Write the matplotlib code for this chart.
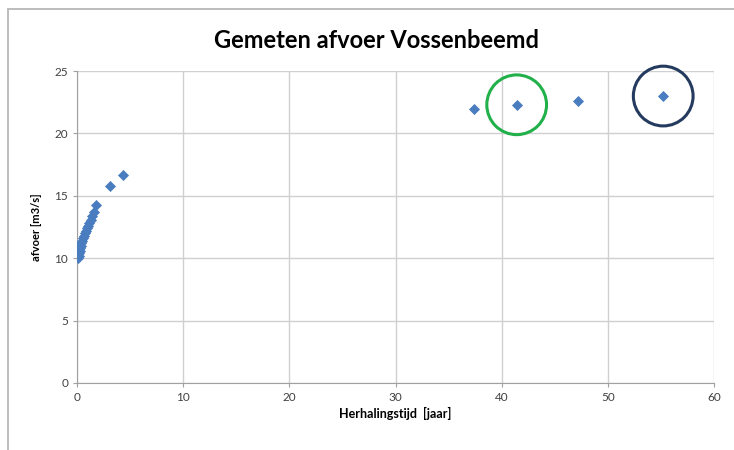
import matplotlib.pyplot as plt
from matplotlib.lines import Line2D

# herhalingstijd [jaar] and afvoer [m3/s]
tijd = [0.1, 0.15, 0.2, 0.25, 0.3, 0.35, 0.4, 0.5, 0.55, 0.65, 0.75, 0.85,
        0.95, 1.05, 1.15, 1.3, 1.45, 1.6, 1.8, 3.1, 4.3, 37.4, 41.4, 47.2, 55.2]
afvoer = [10.0, 10.2, 10.4, 10.6, 10.8, 11.0, 11.2, 11.4, 11.6, 11.8, 12.0, 12.2,
          12.4, 12.6, 12.8, 13.1, 13.4, 13.7, 14.3, 15.8, 16.7, 22.0, 22.3, 22.6, 23.0]

# highlighted points
groen_idx = 22
blauw_idx = 24

plt.rcParams['font.family'] = ['Lato', 'DejaVu Sans']

fig = plt.figure(figsize=(7.34, 4.5), dpi=100)
# outer chart frame (only left and top edges are inside the picture)
fx, fy = 8 / 734, 1 - 9 / 450
fig.add_artist(Line2D([fx, fx], [0, fy], transform=fig.transFigure, color='#bdbdbd', lw=1.4))
fig.add_artist(Line2D([fx, 1], [fy, fy], transform=fig.transFigure, color='#bdbdbd', lw=1.4))

ax = fig.add_axes([0.105, 0.149, 0.868, 0.693])

ax.scatter(tijd, afvoer, marker='D', s=32, color='#4a7dbf', zorder=3, linewidths=0)
ax.scatter([tijd[groen_idx]], [afvoer[groen_idx]], marker='o', s=1850, facecolors='none',
           edgecolors='#22b04a', linewidths=2.2, zorder=4, clip_on=False)
ax.scatter([tijd[blauw_idx]], [afvoer[blauw_idx]], marker='o', s=1850, facecolors='none',
           edgecolors='#243a5e', linewidths=2.2, zorder=4, clip_on=False)

ax.set_xlim(0, 60)
ax.set_ylim(0, 25)
ax.set_xticks(range(0, 61, 10))
ax.set_yticks(range(0, 26, 5))
ax.grid(True, color='#d0d0d0', linewidth=1)
ax.set_axisbelow(True)
for s in ['top', 'right']:
    ax.spines[s].set_visible(False)
for s in ['left', 'bottom']:
    ax.spines[s].set_color('#a0a0a0')
ax.tick_params(labelsize=8.5, colors='#404040', length=3, color='#a0a0a0')

fig.text(376 / 734, 1 - 40 / 450, 'Gemeten afvoer Vossenbeemd', fontsize=17,
         fontweight='bold', ha='center', va='center')
ax.set_xlabel('Herhalingstijd  [jaar]', fontsize=9, fontweight='bold', labelpad=3)
ax.set_ylabel('afvoer [m3/s]', fontsize=8, fontweight='bold', labelpad=9)

fig.savefig('out.png', dpi=100)
